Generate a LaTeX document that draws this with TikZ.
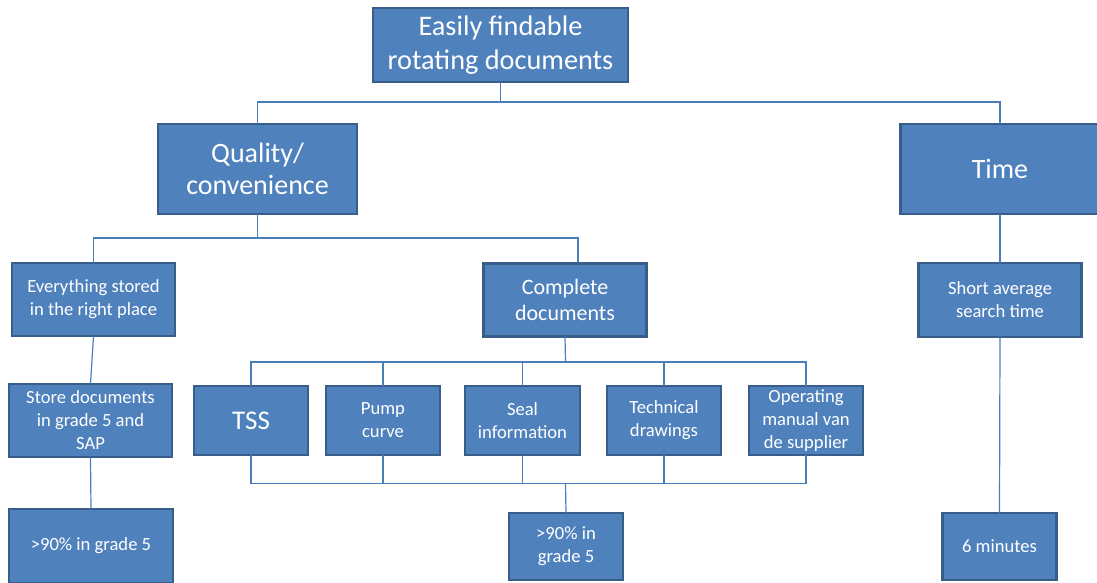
\documentclass[tikz,border=0pt]{standalone}
\usepackage{fontspec}
\setmainfont{Carlito}
\definecolor{boxfill}{HTML}{4F81BD}
\definecolor{boxline}{HTML}{385D8A}
\definecolor{wire}{HTML}{4A7EBB}
\begin{document}
\begin{tikzpicture}[x=1pt,y=-1pt,
  box/.style={draw=boxline,fill=boxfill,line width=2.6pt,text=white,align=center,
    inner sep=0pt,outer sep=0pt},
  huge/.style={font=\fontsize{28.3}{34}\selectfont},
  big/.style={font=\fontsize{28}{32}\selectfont},
  mid/.style={font=\fontsize{22}{26}\selectfont},
  small/.style={font=\fontsize{18.6}{23}\selectfont},
  wirestyle/.style={draw=wire,line width=1.2pt}]
\useasboundingbox (0,0) rectangle (1097,583);
\clip (0,0) rectangle (1097,583);

% level 0
\node[box,huge,minimum width=255pt,minimum height=74pt] (top) at (500.5,45) {Easily findable\\rotating documents};
% level 1
\node[box,big,minimum width=199pt,minimum height=90pt] (qual) at (257.5,169) {Quality/\\convenience};
\node[box,big,minimum width=199pt,minimum height=90pt] (time) at (1000,169) {Time};
% level 2
\node[box,small,minimum width=163pt,minimum height=73pt] (ev) at (93.5,299.5) {Everything stored\\in the right place};
\node[box,mid,minimum width=163pt,minimum height=73pt] (comp) at (565,300) {Complete\\documents};
\node[box,small,minimum width=163pt,minimum height=74pt] (short) at (1000,300) {Short average\\search time};
% level 3
\node[box,small,minimum width=163pt,minimum height=73pt] (store) at (90.5,420.5) {Store documents\\in grade 5 and\\SAP};
\node[box,font=\fontsize{27}{32}\selectfont,minimum width=114pt,minimum height=69pt] (tss) at (251,420.5) {TSS};
\node[box,small,minimum width=114pt,minimum height=69pt] (pump) at (383,420.5) {Pump\\curve};
\node[box,small,minimum width=115pt,minimum height=69pt] (seal) at (522.5,420.5) {Seal\\information};
\node[box,small,minimum width=114pt,minimum height=69pt] (tech) at (664,420.5) {Technical\\drawings};
\node[box,small,minimum width=114pt,minimum height=69pt] (op) at (806,420.5) {Operating\\manual van\\de supplier};
% level 4
\node[box,small,minimum width=164pt,minimum height=74pt] (gleft) at (91,546) {>90\% in grade 5};
\node[box,small,minimum width=114pt,minimum height=67pt] (gmid) at (566,546.3) {>90\% in\\grade 5};
\node[box,small,minimum width=114pt,minimum height=67pt] (six) at (999.5,546.3) {6 minutes};

% connectors
\coordinate (b1) at (500.5,102);
\coordinate (b2) at (257.5,238);
\coordinate (cin) at (578,262);
\coordinate (b3) at (565.5,362);
\coordinate (b4) at (565.5,483.5);

\draw[wirestyle] (top.south) -- (b1);
\draw[wirestyle] (qual.north) |- (b1) -| (time.north);
\draw[wirestyle] (qual.south) -- (b2);
\draw[wirestyle] (ev.north) |- (b2) -| (cin);
\draw[wirestyle] (time.south) -- (short.north);
\draw[wirestyle] (short.south) -- (six.north);
\draw[wirestyle] (ev.south) -- (store.north);
\draw[wirestyle] (store.south) -- (gleft.north);
\draw[wirestyle] (comp.south) -- (b3);
\draw[wirestyle] (tss.north) |- (b3) -| (op.north);
\draw[wirestyle] (pump.north) -- (pump.north |- b3);
\draw[wirestyle] (seal.north) -- (seal.north |- b3);
\draw[wirestyle] (tech.north) -- (tech.north |- b3);
\draw[wirestyle] (tss.south) |- (b4) -| (op.south);
\draw[wirestyle] (pump.south) -- (pump.south |- b4);
\draw[wirestyle] (seal.south) -- (seal.south |- b4);
\draw[wirestyle] (tech.south) -- (tech.south |- b4);
\draw[wirestyle] (b4) -- (gmid.north);
\end{tikzpicture}
\end{document}
